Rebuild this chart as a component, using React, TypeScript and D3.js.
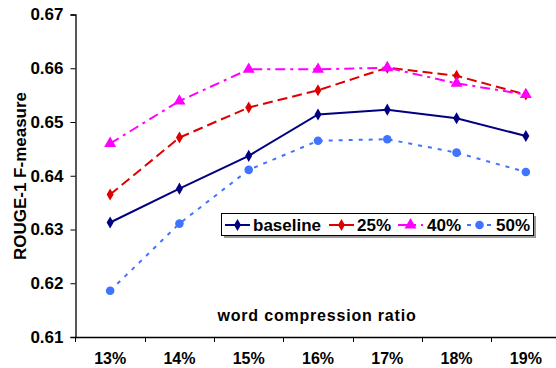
import React, { useRef, useEffect } from "react";
import * as d3 from "d3";

const categories = ["13%", "14%", "15%", "16%", "17%", "18%", "19%"];
const yTicks = [0.61, 0.62, 0.63, 0.64, 0.65, 0.66, 0.67];

const baseline = [0.6313, 0.6376, 0.6437, 0.6514, 0.6523, 0.6507, 0.6474];
const r25 = [0.6365, 0.6471, 0.6527, 0.6559, 0.6601, 0.6586, 0.6551];
const r40 = [0.646, 0.6539, 0.6598, 0.6598, 0.6601, 0.6572, 0.6551];
const r50 = [0.6186, 0.6311, 0.6411, 0.6465, 0.6468, 0.6443, 0.6407];

const seriesNames = ["baseline", "25%", "40%", "50%"];
const seriesValues = [baseline, r25, r40, r50];

const W = 556;
const H = 368;
const FONT = "'Liberation Sans', Arial, sans-serif";

const styles = [
  { color: "#000080", dash: null, marker: "diamond" },
  { color: "#dd0000", dash: "10,5", marker: "diamond" },
  { color: "#ff00ff", dash: "10,5,3,5", marker: "triangle" },
  { color: "#3f74ff", dash: "4,6", marker: "circle" },
];

export default function App() {
  const ref = useRef<SVGSVGElement>(null);

  useEffect(() => {
    const svg = d3.select(ref.current);
    svg.selectAll("*").remove();

    const left = 75.5, right = 560.5, top = 14.5, bottom = 337;

    const x = d3.scaleBand().domain(categories).range([left, right]).padding(0);
    const y = d3.scaleLinear().domain([0.61, 0.67]).range([bottom, top]);
    const cx = (c: string) => (x(c) as number) + x.bandwidth() / 2;

    // axes
    const yAxis = svg.append("g").attr("transform", `translate(${left},0)`)
      .call(d3.axisLeft(y).tickValues(yTicks).tickSize(5).tickPadding(7).tickFormat(d3.format(".2f")));
    yAxis.select(".domain").attr("stroke", "#000").attr("stroke-width", 1.3);
    yAxis.selectAll("text").attr("font-family", FONT).attr("font-weight", "bold")
      .attr("font-size", 17).attr("fill", "#000");

    const xAxis = svg.append("g").attr("transform", `translate(0,${bottom})`)
      .call(d3.axisBottom(x).tickSize(0).tickPadding(16));
    xAxis.select(".domain").attr("stroke", "#000").attr("stroke-width", 1.3).attr("d", `M${left},0.5H${right}`);
    xAxis.selectAll("text").attr("font-family", FONT).attr("font-weight", "bold")
      .attr("font-size", 16).attr("fill", "#000");
    // tick marks at band boundaries
    xAxis.selectAll("line.b").data(categories).join("line").attr("class", "b")
      .attr("x1", d => Math.round(x(d) as number) + 0.5).attr("x2", d => Math.round(x(d) as number) + 0.5)
      .attr("y1", 0).attr("y2", 5).attr("stroke", "#000");

    // titles
    svg.append("text").attr("x", 317).attr("y", 321).attr("text-anchor", "middle")
      .attr("font-family", FONT).attr("font-weight", "bold").attr("font-size", 16)
      .attr("letter-spacing", 0.8).text("word compression ratio");
    svg.append("text").attr("transform", "translate(26,176) rotate(-90)").attr("text-anchor", "middle")
      .attr("font-family", FONT).attr("font-weight", "bold").attr("font-size", 17)
      .text("ROUGE-1 F-measure");

    const drawMarker = (g: any, kind: string, px: number, py: number, color: string) => {
      if (kind === "diamond") {
        g.append("path").attr("d", d3.symbol(d3.symbolDiamond, 42)()).attr("transform", `translate(${px},${py})`).attr("fill", color);
      } else if (kind === "triangle") {
        g.append("path").attr("d", d3.symbol(d3.symbolTriangle, 62)()).attr("transform", `translate(${px},${py})`).attr("fill", color);
      } else {
        g.append("circle").attr("cx", px).attr("cy", py).attr("r", 4.3).attr("fill", color);
      }
    };

    const line = d3.line<number>().x((_, i) => cx(categories[i])).y(d => y(d));

    seriesValues.forEach((vals, si) => {
      const st = styles[si];
      const g = svg.append("g");
      g.append("path").attr("d", line(vals)).attr("fill", "none").attr("stroke", st.color)
        .attr("stroke-width", 2).attr("stroke-dasharray", st.dash);
      vals.forEach((v, i) => drawMarker(g, st.marker, cx(categories[i]), y(v), st.color));
    });

    // legend
    const lg = svg.append("g");
    lg.append("rect").attr("x", 224).attr("y", 216).attr("width", 312).attr("height", 22).attr("fill", "#999");
    lg.append("rect").attr("x", 221.5).attr("y", 213.5).attr("width", 312).attr("height", 22)
      .attr("fill", "#fff").attr("stroke", "#000");
    const legendX = [225, 329, 398, 467];
    const textX = [253, 357, 427, 496];
    seriesNames.forEach((name, si) => {
      const st = styles[si];
      const lx = legendX[si];
      lg.append("line").attr("x1", lx).attr("x2", lx + 25).attr("y1", 225).attr("y2", 225)
        .attr("stroke", st.color).attr("stroke-width", 2).attr("stroke-dasharray", st.dash);
      drawMarker(lg, st.marker, lx + 12.5, 225, st.color);
      lg.append("text").attr("x", textX[si]).attr("y", 231).attr("font-family", FONT)
        .attr("font-weight", "bold").attr("font-size", 17).text(name);
    });
  }, []);

  return (
    <svg ref={ref} width={W} height={H}
      style={{ position: "absolute", left: 0, top: 0, background: "#fff" }} />
  );
}
